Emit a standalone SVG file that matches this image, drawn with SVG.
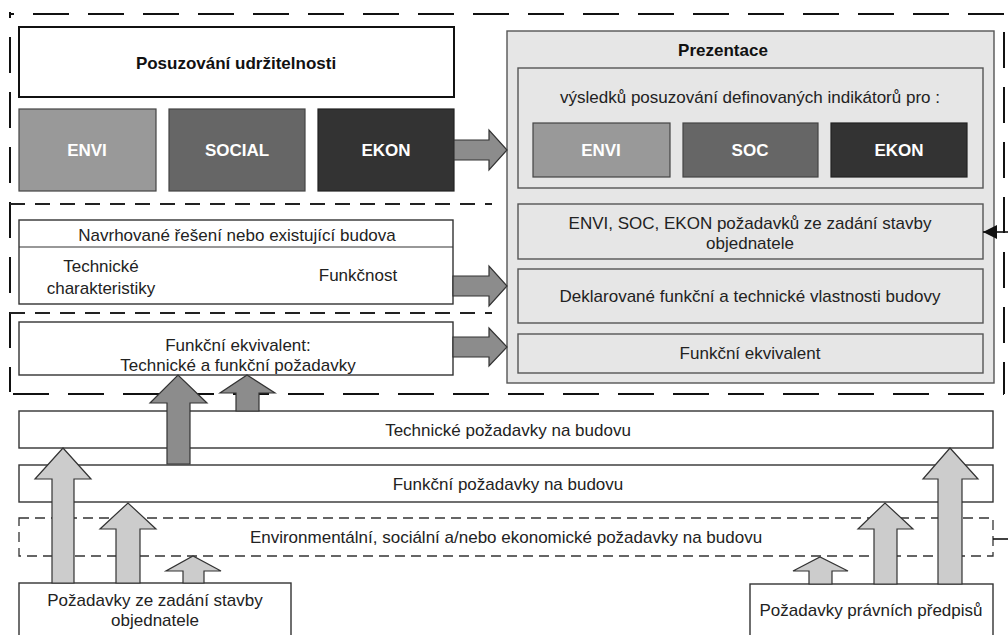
<svg xmlns="http://www.w3.org/2000/svg" width="1008" height="635" viewBox="0 0 1008 635">
  <style>
    .t { font-family: "Liberation Sans", Arial, sans-serif; font-size: 17px; fill: #222; text-anchor: middle; }
    .b { font-weight: bold; fill: #111; }
    .w { font-weight: bold; fill: #fff; }
    .box { fill: #fff; stroke: #333; stroke-width: 1.4; }
    .panel { fill: #e6e6e6; stroke: #555; stroke-width: 1.4; }
    .frame { fill: none; stroke: #111; stroke-width: 2; stroke-dasharray: 36 19; }
    .sep { fill: none; stroke: #222; stroke-width: 2; stroke-dasharray: 15 10; }
    .dashbox { fill: #fff; stroke: #333; stroke-width: 1.3; stroke-dasharray: 10 6; }
    .arrD { fill: #8c8c8c; stroke: #333; stroke-width: 1.2; }
    .arrL { fill: #cccccc; stroke: #333; stroke-width: 1.2; }
    .wire { fill: none; stroke: #111; stroke-width: 1.6; }
  </style>
  <defs>
    <marker id="head" viewBox="0 0 10 10" refX="10" refY="5" markerWidth="17" markerHeight="14" markerUnits="userSpaceOnUse" orient="auto">
      <path d="M0,0 L10,5 L0,10 Z" fill="#111"/>
    </marker>
  </defs>

  <rect width="1008" height="635" fill="#fff"/>

  <!-- dashed framing of the upper part -->
  <g id="frame">
    <line class="frame" x1="10" y1="14" x2="1008" y2="14" stroke-dashoffset="32"/>
    <line class="frame" x1="10" y1="12" x2="10" y2="392" stroke-dashoffset="30"/>
    <line class="frame" x1="1004" y1="14" x2="1004" y2="394" stroke-dasharray="38 17" stroke-dashoffset="-18"/>
    <line class="frame" x1="13" y1="394" x2="1004" y2="394" stroke-dasharray="37 18"/>
    <line class="sep" x1="10" y1="204" x2="492" y2="204"/>
    <line class="sep" x1="10" y1="313" x2="492" y2="313"/>
  </g>

  <!-- left column: assessment -->
  <g id="posuzovani">
    <rect x="19" y="27" width="435" height="70" fill="#fff" stroke="#111" stroke-width="2"/>
    <text class="t b" x="236" y="69">Posuzování udržitelnosti</text>
  </g>
  <g id="envi">
    <rect x="19" y="109" width="137" height="82" fill="#999" stroke="#444" stroke-width="1.2"/>
    <text class="t w" x="87" y="156">ENVI</text>
  </g>
  <g id="social">
    <rect x="169" y="109" width="136" height="82" fill="#666" stroke="#444" stroke-width="1.2"/>
    <text class="t w" x="237" y="156">SOCIAL</text>
  </g>
  <g id="ekon">
    <rect x="318" y="109" width="136" height="82" fill="#333" stroke="#222" stroke-width="1.2"/>
    <text class="t w" x="386" y="156">EKON</text>
  </g>

  <g id="navrhovane">
    <rect class="box" x="19" y="220" width="434" height="84"/>
    <line x1="19" y1="247" x2="453" y2="247" stroke="#333" stroke-width="1.2"/>
    <text class="t" x="237" y="241">Navrhované řešení nebo existující budova</text>
    <text class="t" x="101" y="272">Technické</text>
    <text class="t" x="101" y="294">charakteristiky</text>
    <text class="t" x="358" y="281">Funkčnost</text>
  </g>

  <g id="ekvivalent">
    <rect class="box" x="19" y="322" width="434" height="53"/>
    <text class="t" x="238" y="351">Funkční ekvivalent:</text>
    <text class="t" x="238" y="371">Technické a funkční požadavky</text>
  </g>

  <!-- right column: presentation -->
  <g id="prezentace">
    <rect class="panel" x="507" y="31" width="487" height="352"/>
    <text class="t b" x="723" y="56">Prezentace</text>
  </g>
  <g id="vysledky">
    <rect class="panel" x="518" y="68" width="465" height="120"/>
    <text class="t" x="750" y="103">výsledků posuzování definovaných indikátorů pro :</text>
  </g>
  <g id="envi2">
    <rect x="533" y="123" width="137" height="54" fill="#999" stroke="#444" stroke-width="1.2"/>
    <text class="t w" x="601" y="156">ENVI</text>
  </g>
  <g id="soc2">
    <rect x="683" y="123" width="135" height="54" fill="#666" stroke="#444" stroke-width="1.2"/>
    <text class="t w" x="750" y="156">SOC</text>
  </g>
  <g id="ekon2">
    <rect x="831" y="123" width="136" height="54" fill="#333" stroke="#222" stroke-width="1.2"/>
    <text class="t w" x="899" y="156">EKON</text>
  </g>
  <g id="pozadavky-zadani">
    <rect class="panel" x="518" y="204" width="465" height="55"/>
    <text class="t" x="750" y="229">ENVI, SOC, EKON požadavků ze zadání stavby</text>
    <text class="t" x="750" y="249">objednatele</text>
  </g>
  <g id="deklarovane">
    <rect class="panel" x="518" y="269" width="465" height="54"/>
    <text class="t" x="750" y="302">Deklarované funkční a technické vlastnosti budovy</text>
  </g>
  <g id="ekvivalent2">
    <rect class="panel" x="518" y="334" width="465" height="39"/>
    <text class="t" x="750" y="359">Funkční ekvivalent</text>
  </g>

  <!-- lower requirement layers -->
  <g id="technicke">
    <rect class="box" x="19" y="411" width="974" height="37"/>
    <text class="t" x="508" y="436">Technické požadavky na budovu</text>
  </g>
  <g id="funkcni">
    <rect class="box" x="19" y="465" width="974" height="37"/>
    <text class="t" x="508" y="490">Funkční požadavky na budovu</text>
  </g>
  <g id="environmentalni">
    <rect class="dashbox" x="19" y="518" width="974" height="38"/>
    <text class="t" x="506" y="543">Environmentální, sociální a/nebo ekonomické požadavky na budovu</text>
  </g>
  <g id="zadani">
    <rect class="box" x="19" y="583" width="272" height="60"/>
    <text class="t" x="155" y="606">Požadavky ze zadání stavby</text>
    <text class="t" x="155" y="626">objednatele</text>
  </g>
  <g id="predpisy">
    <rect class="box" x="750" y="584" width="243" height="60"/>
    <text class="t" x="871" y="616">Požadavky právních předpisů</text>
  </g>

  <!-- connectors -->
  <g id="connectors">
    <!-- block arrows into the presentation panel -->
    <polygon class="arrD" points="454,140 489,140 489,130 507,150 489,170 489,160 454,160"/>
    <polygon class="arrD" points="453,276 489,276 489,266 507,286 489,306 489,296 453,296"/>
    <polygon class="arrD" points="453,337 489,337 489,328 507,347 489,366 489,357 453,357"/>

    <!-- dark block arrows up to the functional equivalent -->
    <polygon class="arrD" points="167,464 167,403 150,403 178,375 207,403 190,403 190,464"/>
    <polygon class="arrD" points="236,411 236,393 220,393 247,375 275,393 259,393 259,411"/>

    <!-- light block arrows from the client brief -->
    <polygon class="arrL" points="52,583 52,479 35,479 63,448 91,479 74,479 74,583"/>
    <polygon class="arrL" points="116,583 116,529 100,529 128,503 156,529 140,529 140,583"/>
    <polygon class="arrL" points="183,583 183,571 166,571 193,556 221,571 204,571 204,583"/>

    <!-- light block arrows from legal requirements -->
    <polygon class="arrL" points="809,584 809,571 793,571 820,557 848,571 832,571 832,584"/>
    <polygon class="arrL" points="874,584 874,529 858,529 885,503 913,529 897,529 897,584"/>
    <polygon class="arrL" points="938,584 938,479 923,479 950,448 978,479 962,479 962,584"/>

    <!-- lines entering from the right edge -->
    <line class="wire" x1="1008" y1="232" x2="983" y2="232" marker-end="url(#head)"/>
    <line class="wire" x1="993" y1="539" x2="1008" y2="539"/>
  </g>
</svg>
